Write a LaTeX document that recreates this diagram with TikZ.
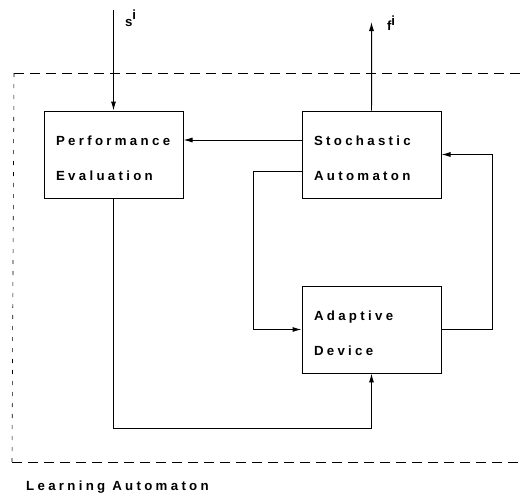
\documentclass[tikz,border=0pt]{standalone}
\usepackage{fontspec}
\usepackage{tikz}
\usetikzlibrary{shapes,arrows.meta,positioning}
\newfontfamily\figfont[LetterSpace=25]{Liberation Sans}
\tikzstyle{block} = [rectangle, draw, line width=1pt, font=\figfont\bfseries\fontsize{13.3}{35}\selectfont,
	text width=115bp, align=left, inner xsep=12bp, inner ysep=0pt, text height=17bp, minimum height=87bp]
\tikzstyle{line} = [draw, line width=1pt, -{Latex[length=9bp, width=5bp]}]
\tikzstyle{frame} = [draw, line width=1pt, dash pattern=on 10bp off 6bp]
\tikzstyle{tag} = [font=\figfont\bfseries\fontsize{13.3}{16}\selectfont, inner sep=0pt]

\begin{document}
\begin{tikzpicture}
	\useasboundingbox (0,0) rectangle (523bp,-499bp);
	% Place nodes
	\node [block] (perf) at (113.5bp,-154.5bp) {Performance\\Evaluation};
	\node [block, right=118bp of perf] (stoch) {Stochastic\\Automaton};
	\node [block, below=87bp of stoch] (adapt) {Adaptive\\Device};
	\coordinate (sin) at (113.5bp,-10bp);
	\coordinate (fout) at (371.5bp,-22bp);
	\coordinate (ftl) at (14bp,-73bp);
	\coordinate (fbl) at (12bp,-462bp);
	\node [tag, anchor=west] (learn) at (26bp,-487bp) {Learning Automaton};
	% Draw frame
	\path [frame] (ftl) -- (523bp,-73bp);
	\path [frame] (fbl) -- (523bp,-462bp);
	\path [draw, line width=0.6pt, dash pattern=on 4bp off 7bp] (ftl) -- (fbl);
	% Draw edges
	\path [line] (sin) node [tag, anchor=west, xshift=11bp, yshift=-8bp] (slab) {s\raisebox{7bp}{i}} -- (perf);
	\path [line] (stoch) -- (fout) node [tag, anchor=west, xshift=15bp, yshift=-1bp] (flab) {f\raisebox{5bp}{i}};
	\path [line] ([yshift=14.5bp]stoch.west) -- ([yshift=14.5bp]perf.east);
	\path [line] ([yshift=-16.5bp]stoch.west) -- ++(-48bp,0) |- (adapt.west);
	\path [line] (adapt.east) -- ++(51bp,0) |- (stoch.east);
	\path [line] (perf.south) -- ++(0,-230bp) -| (adapt.south);
\end{tikzpicture}
\end{document}
